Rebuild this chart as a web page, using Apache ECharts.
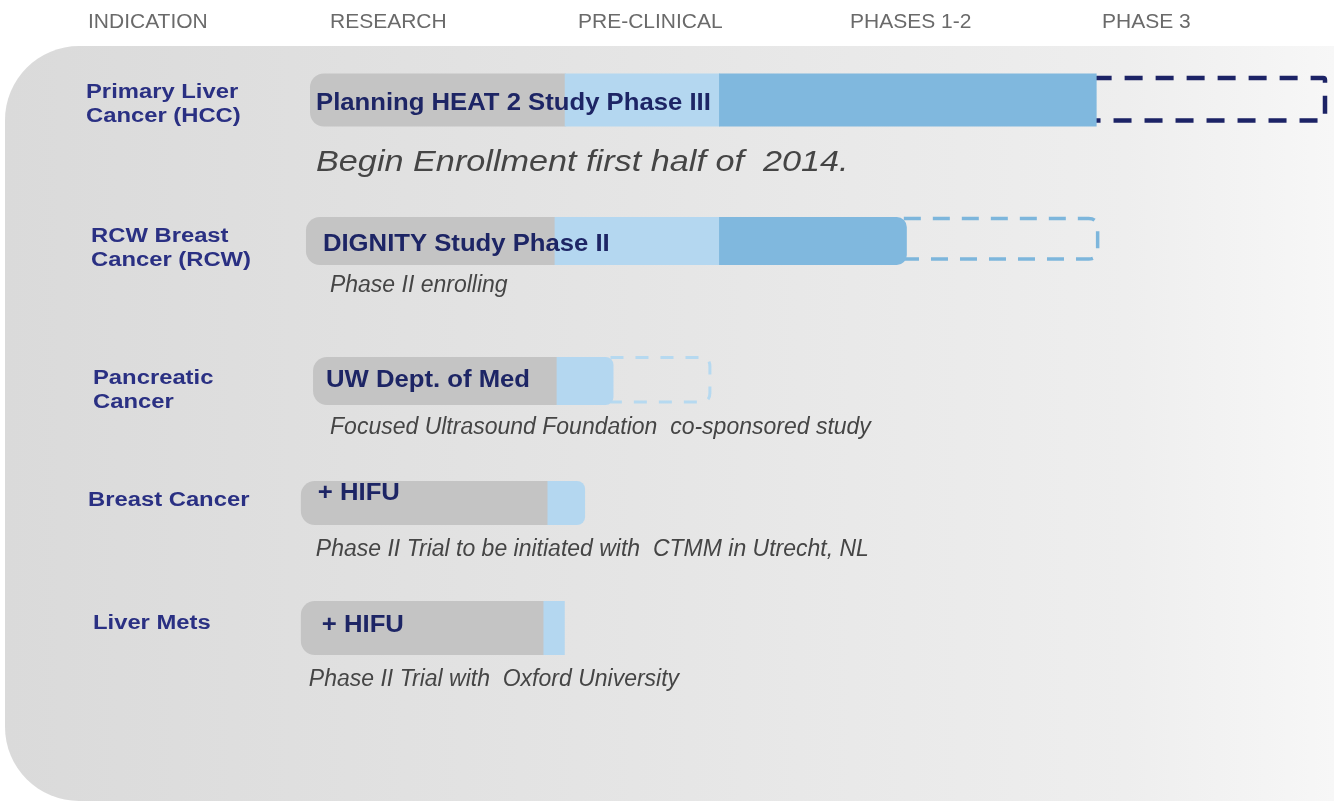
<!DOCTYPE html>
<html lang="en">
<head>
    <meta charset="UTF-8">
    <title>Pipeline</title>
    <script src="https://cdn.jsdelivr.net/npm/echarts@6/dist/echarts.min.js"></script>
    <style>
        html, body { margin: 0; padding: 0; background: #fff; }
        #main { width: 1334px; height: 803px; }
    </style>
</head>
<body>
    <div id="main"></div>
    <script>
        // column headers
        var phases = ['INDICATION', 'RESEARCH', 'PRE-CLINICAL', 'PHASES 1-2', 'PHASE 3'];

        // one row per indication
        var indications = ['Primary Liver\nCancer (HCC)', 'RCW Breast\nCancer (RCW)', 'Pancreatic\nCancer', 'Breast Cancer', 'Liver Mets'];
        var programs = ['Planning HEAT 2 Study Phase III', 'DIGNITY Study Phase II', 'UW Dept. of Med', '+ HIFU', '+ HIFU'];
        var notes = [
            'Begin Enrollment first half of  2014.',
            'Phase II enrolling',
            'Focused Ultrasound Foundation  co-sponsored study',
            'Phase II Trial to be initiated with  CTMM in Utrecht, NL',
            'Phase II Trial with  Oxford University'
        ];

        // progress scale: 0 = start of research, 100 = end of phase 3
        var barStart = [0, -0.4, 0.3, -0.9, -0.9];
        var researchEnd = [25.1, 24.1, 24.3, 23.4, 23.0];
        var preclinicalEnd = [40.4, 40.4, 29.9, 27.1, 25.1];
        var clinicalEnd = [77.5, 58.8, null, null, null];
        var plannedEnd = [100, 77.6, 39.4, null, null];

        // layout / style per row (pixels)
        var rowShift = [0, 9, 17, 7, 0];
        var barH = [53, 48, 48, 44, 54];
        var labelDx = [6, 17, 13, 17, 21];
        var labelDy = [3, 3, -1, -10, -3];
        var noteDx = [6, 24, 17, 15, 8];
        var noteDy = [63, 45, 47, 47, 52];
        var noteSize = [29, 23, 23, 23, 23];
        var noteStretch = [1.18, 1, 1, 1, 1];
        var indX = [86, 91, 93, 88, 93];
        var indDy = [4, 7, 9, -3, -5];
        var dashColor = ['#1c2366', '#7db6dc', '#b6d9f0', null, null];
        var dashWidth = [4.5, 3.5, 3, 0, 0];
        var dashPattern = [[18, 13], [17, 12], [13, 12], null, null];
        var dashInset = [[4.5, 6], [1.5, 6], [0.5, 3], null, null];
        var dashR = [2, 9, 9, 0, 0];

        var NAVY = '#1d2565';
        var GRAY = '#c4c4c4';
        var LIGHT = '#b4d7f0';
        var MID = '#80b8de';
        var FONT = '"Liberation Sans", Arial, sans-serif';

        var myChart = echarts.init(document.getElementById('main'));

        function label(text, x, y, opts) {
            return {
                type: 'text',
                x: x,
                y: y,
                scaleX: opts.stretch || 1,
                z2: 10,
                style: {
                    text: text,
                    x: 0,
                    y: 0,
                    fill: opts.color,
                    fontFamily: FONT,
                    fontWeight: opts.weight || 'normal',
                    fontStyle: opts.style || 'normal',
                    fontSize: opts.size,
                    lineHeight: opts.lineHeight,
                    verticalAlign: 'middle'
                }
            };
        }

        // open bracket shape: top edge, rounded right side, bottom edge
        function bracketPath(x0, x1, y0, y1, r) {
            return 'M' + x0 + ' ' + y0 +
                ' L' + (x1 - r) + ' ' + y0 +
                ' Q' + x1 + ' ' + y0 + ' ' + x1 + ' ' + (y0 + r) +
                ' L' + x1 + ' ' + (y1 - r) +
                ' Q' + x1 + ' ' + y1 + ' ' + (x1 - r) + ' ' + y1 +
                ' L' + x0 + ' ' + y1;
        }

        function renderRow(params, api) {
            var i = api.value(0);
            var yc = api.coord([0, i])[1] + rowShift[i];
            var x = function (v) { return api.coord([v, i])[0]; };
            var h = barH[i];
            var top = yc - h / 2;
            var children = [];

            // planned (dashed) part
            if (plannedEnd[i] != null) {
                var lastEnd = clinicalEnd[i] != null ? clinicalEnd[i] : preclinicalEnd[i];
                children.push({
                    type: 'path',
                    z2: 0,
                    shape: {
                        pathData: bracketPath(x(lastEnd) - 3, x(plannedEnd[i]),
                            top + dashInset[i][0], top + h - dashInset[i][1], dashR[i])
                    },
                    style: {
                        fill: null,
                        stroke: dashColor[i],
                        lineWidth: dashWidth[i],
                        lineDash: dashPattern[i]
                    }
                });
            }

            // research (gray)
            children.push({
                type: 'rect',
                z2: 2,
                shape: { x: x(barStart[i]), y: top, width: x(researchEnd[i]) - x(barStart[i]) + 1, height: h, r: [14, 0, 0, 14] },
                style: { fill: GRAY }
            });

            // pre-clinical (light blue)
            var lightRound = clinicalEnd[i] == null && i < 4 ? [0, 8, 8, 0] : 0;
            children.push({
                type: 'rect',
                z2: 3,
                shape: { x: x(researchEnd[i]), y: top, width: x(preclinicalEnd[i]) - x(researchEnd[i]), height: h, r: lightRound },
                style: { fill: LIGHT }
            });

            // clinical (mid blue)
            if (clinicalEnd[i] != null) {
                children.push({
                    type: 'rect',
                    z2: 4,
                    shape: {
                        x: x(preclinicalEnd[i]) - 1, y: top,
                        width: x(clinicalEnd[i]) - x(preclinicalEnd[i]) + 1, height: h,
                        r: plannedEnd[i] != null && plannedEnd[i] < 90 ? [0, 10, 10, 0] : 0
                    },
                    style: { fill: MID }
                });
            }

            children.push(label(programs[i], x(barStart[i]) + labelDx[i], yc + labelDy[i],
                { color: NAVY, weight: 'bold', size: 24, stretch: 1.07 }));

            children.push(label(notes[i], x(barStart[i]) + noteDx[i], yc + noteDy[i],
                { color: '#454545', style: 'italic', size: noteSize[i], stretch: noteStretch[i] }));

            children.push(label(indications[i], indX[i], yc + indDy[i],
                { color: '#2a3083', weight: 'bold', size: 20, lineHeight: 24, stretch: 1.19 }));

            return { type: 'group', children: children };
        }

        var headerX = [88, 330, 578, 850, 1102];
        var graphics = [{
            type: 'rect',
            z: -10,
            shape: { x: 5, y: 46, width: 1400, height: 755, r: [74, 0, 0, 74] },
            style: {
                fill: new echarts.graphic.LinearGradient(0, 0, 1, 0, [
                    { offset: 0, color: '#dadada' },
                    { offset: 0.45, color: '#e5e5e5' },
                    { offset: 0.8, color: '#eeeeee' },
                    { offset: 1, color: '#fafafa' }
                ])
            }
        }];
        phases.forEach(function (p, k) {
            graphics.push({
                type: 'text',
                x: headerX[k],
                y: 22,
                style: {
                    text: p,
                    x: 0,
                    y: 0,
                    fill: '#6a6a6a',
                    fontFamily: FONT,
                    fontSize: 21,
                    verticalAlign: 'middle'
                }
            });
        });

        var option = {
            animation: false,
            backgroundColor: '#ffffff',
            graphic: graphics,
            grid: { left: 310, right: 9, top: 34, bottom: 109 },
            xAxis: { type: 'value', min: 0, max: 100, show: false },
            yAxis: { type: 'category', data: indications, inverse: true, show: false },
            series: [{
                type: 'custom',
                renderItem: renderRow,
                clip: false,
                data: indications.map(function (d, i) { return [i]; })
            }]
        };
        myChart.setOption(option);
    </script>
</body>
</html>
